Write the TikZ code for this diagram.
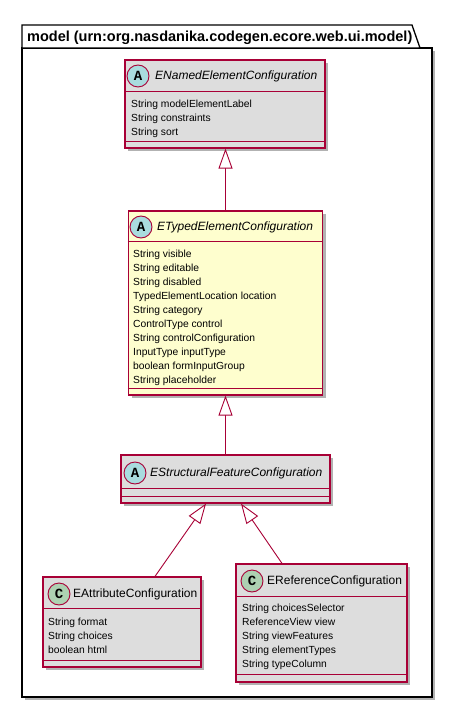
\documentclass[tikz,border=0pt]{standalone}
\usepackage{fontspec}
\setmainfont{Liberation Sans}
\newfontfamily\glyphfont{Liberation Mono}
\usetikzlibrary{arrows.meta,shadows}
\definecolor{umlborder}{HTML}{A80036}
\definecolor{graybg}{HTML}{DDDDDD}
\definecolor{yellowbg}{HTML}{FEFECE}
\definecolor{abstractbg}{HTML}{A9DCDF}
\definecolor{classbg}{HTML}{ADD1B2}
\tikzset{
  umlshadow/.style={drop shadow={shadow xshift=3pt,shadow yshift=-3pt,opacity=0.3,fill=black}},
  classbox/.style={draw=umlborder,line width=1.2pt,fill=graybg,inner sep=0pt,umlshadow},
  sepline/.style={draw=umlborder,line width=1.2pt},
  badge/.style={circle,draw=umlborder,line width=0.9pt,minimum size=22pt,inner sep=0pt,
    font=\glyphfont\bfseries\fontsize{14}{14}\selectfont},
  abstractname/.style={anchor=west,inner sep=0pt,font=\itshape\fontsize{12}{14}\selectfont},
  classname/.style={anchor=west,inner sep=0pt,font=\fontsize{12}{14}\selectfont},
  attrs/.style={anchor=north west,inner sep=0pt,align=left,
    font=\fontsize{10.3}{14}\selectfont},
  inherit/.style={draw=umlborder,line width=0.9pt,
    -{Triangle[fill=white,length=20pt,width=14pt,line width=0.9pt]}},
}
\begin{document}
\begin{tikzpicture}[x=1pt,y=-1pt]
\useasboundingbox (0,0) rectangle (451,708);

% package frame with its tab
\path[draw=black,line width=1.3pt,fill=white,umlshadow] (22,48) rectangle (432,697);
\path[draw=black,line width=1.3pt,fill=white] (22,48) -- (22,25) -- (412,25) -- (420,48) -- cycle;
\node[anchor=base west,inner sep=0pt,font=\bfseries\fontsize{14.5}{16}\selectfont] (pkgtitle) at (27,42)
  {model (urn:org.nasdanika.codegen.ecore.web.ui.model)};

% ENamedElementConfiguration
\node[classbox,minimum width=200pt,minimum height=88pt] (enamed) at (225,104) {};
\draw[sepline] ([yshift=-32pt]enamed.north west) -- ([yshift=-32pt]enamed.north east);
\draw[sepline] ([yshift=7pt]enamed.south west) -- ([yshift=7pt]enamed.south east);
\node[badge,fill=abstractbg] (enamedbadge) at (138,76) {A};
\node[abstractname] (enamedname) at (155,76) {ENamedElementConfiguration};
\node[attrs] (enamedattrs) at (131,99.5) {String modelElementLabel\\String constraints\\String sort};

% ETypedElementConfiguration
\node[classbox,fill=yellowbg,minimum width=194pt,minimum height=184pt] (etyped) at (225.5,303) {};
\draw[sepline] ([yshift=-31pt]etyped.north west) -- ([yshift=-31pt]etyped.north east);
\draw[sepline] ([yshift=7pt]etyped.south west) -- ([yshift=7pt]etyped.south east);
\node[badge,fill=abstractbg] (etypedbadge) at (141,227) {A};
\node[abstractname] (etypedname) at (157,227) {ETypedElementConfiguration};
\node[attrs] (etypedattrs) at (133,249.5) {String visible\\String editable\\String disabled\\
  TypedElementLocation location\\String category\\ControlType control\\
  String controlConfiguration\\InputType inputType\\boolean formInputGroup\\String placeholder};

% EStructuralFeatureConfiguration
\node[classbox,minimum width=209pt,minimum height=48pt] (estruct) at (225.5,479) {};
\draw[sepline] ([yshift=-34pt]estruct.north west) -- ([yshift=-34pt]estruct.north east);
\draw[sepline] ([yshift=7pt]estruct.south west) -- ([yshift=7pt]estruct.south east);
\node[badge,fill=abstractbg] (estructbadge) at (135,473) {A};
\node[abstractname] (estructname) at (150,473) {EStructuralFeatureConfiguration};

% EAttributeConfiguration
\node[classbox,minimum width=158pt,minimum height=90pt] (eattr) at (122,622) {};
\draw[sepline] ([yshift=-32pt]eattr.north west) -- ([yshift=-32pt]eattr.north east);
\draw[sepline] ([yshift=7pt]eattr.south west) -- ([yshift=7pt]eattr.south east);
\node[badge,fill=classbg] (eattrbadge) at (59,594) {C};
\node[classname] (eattrname) at (73,594) {EAttributeConfiguration};
\node[attrs] (eattrattrs) at (48,617.5) {String format\\String choices\\boolean html};

% EReferenceConfiguration
\node[classbox,minimum width=171pt,minimum height=118pt] (eref) at (321.5,623) {};
\draw[sepline] ([yshift=-33pt]eref.north west) -- ([yshift=-33pt]eref.north east);
\draw[sepline] ([yshift=8pt]eref.south west) -- ([yshift=8pt]eref.south east);
\node[badge,fill=classbg] (erefbadge) at (252,581) {C};
\node[classname] (erefname) at (267,581) {EReferenceConfiguration};
\node[attrs] (erefattrs) at (242,603.5) {String choicesSelector\\ReferenceView view\\
  String viewFeatures\\String elementTypes\\String typeColumn};

% generalizations
\draw[inherit] (etyped.north) -- (etyped.north |- enamed.south);
\draw[inherit] (estruct.north) -- (estruct.north |- etyped.south);
\draw[inherit] ([xshift=33pt]eattr.north) -- ([xshift=-19.5pt]estruct.south);
\draw[inherit] ([xshift=-39.5pt]eref.north) -- ([xshift=15.5pt]estruct.south);
\end{tikzpicture}
\end{document}
